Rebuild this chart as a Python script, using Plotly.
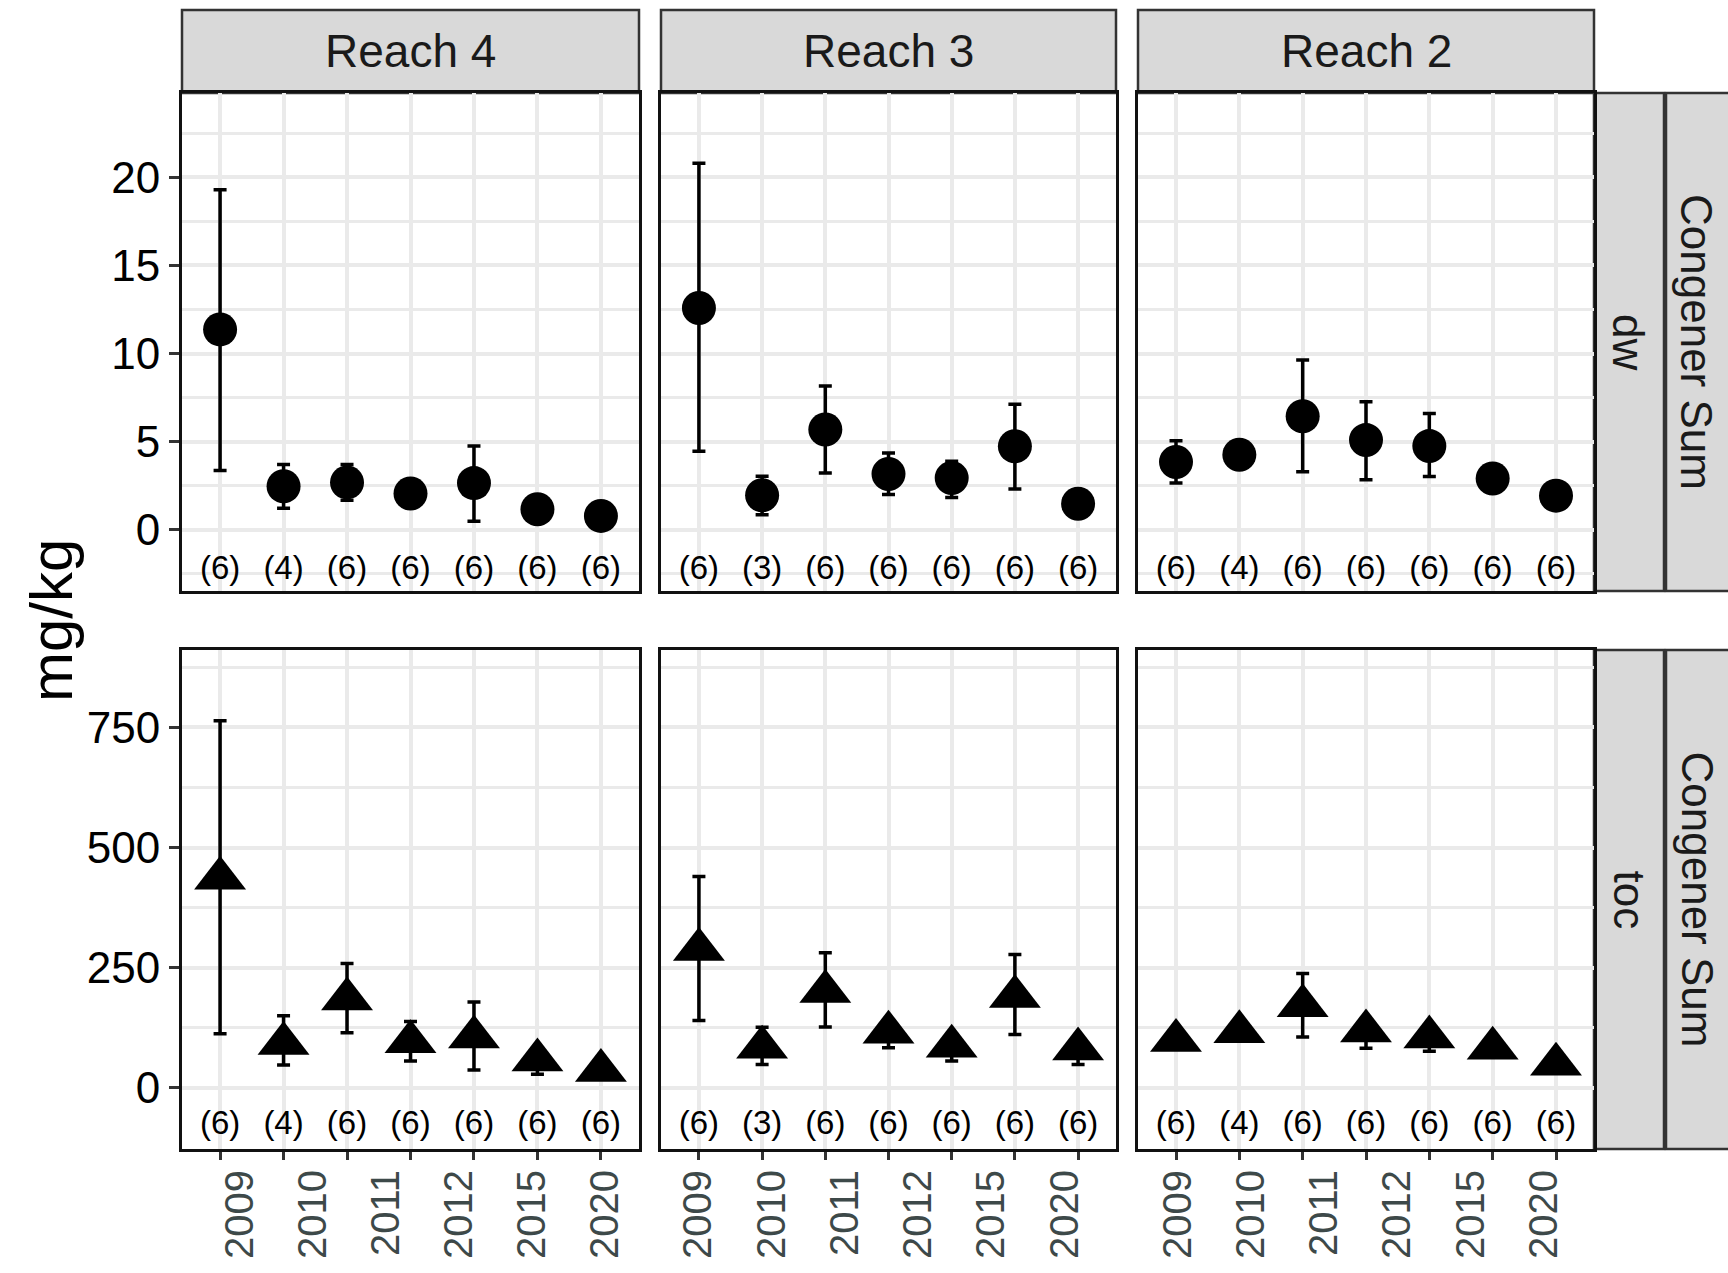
import plotly.graph_objects as go

# ---------------- data ----------------
reaches = ["Reach 4", "Reach 3", "Reach 2"]
bases = ["dw", "toc"]
group_label = "Congener Sum"
events = ["1", "2", "3", "4", "5", "6", "7"]          # 7 sampling events per panel
year_labels = ["2009", "2010", "2011", "2012", "2015", "2020"]
y_title = "mg/kg"

n_reach4 = [6, 4, 6, 6, 6, 6, 6]
n_reach3 = [6, 3, 6, 6, 6, 6, 6]
n_reach2 = [6, 4, 6, 6, 6, 6, 6]

# dry-weight (dw) values: mean, lower, upper (None = no visible bar)
dw_reach4_mean = [11.37, 2.47, 2.69, 2.06, 2.65, 1.17, 0.79]
dw_reach4_low = [3.37, 1.23, 1.68, None, 0.49, None, None]
dw_reach4_high = [19.29, 3.70, 3.70, None, 4.76, None, None]

dw_reach3_mean = [12.58, 1.96, 5.69, 3.17, 2.94, 4.74, 1.48]
dw_reach3_low = [4.46, 0.86, 3.23, 2.00, 1.84, 2.32, None]
dw_reach3_high = [20.8, 3.04, 8.16, 4.36, 3.89, 7.12, None]

dw_reach2_mean = [3.85, 4.26, 6.44, 5.09, 4.75, 2.91, 1.94]
dw_reach2_low = [2.66, None, 3.29, 2.84, 3.02, None, None]
dw_reach2_high = [5.05, None, 9.63, 7.27, 6.60, None, None]

# organic-carbon normalised (toc) values
toc_reach4_mean = [436, 92.7, 185, 96, 105.8, 58, 36.5]
toc_reach4_low = [112.6, 47.8, 115, 56, 37.4, 28.7, None]
toc_reach4_high = [764, 150, 259, 138, 179, None, None]

toc_reach3_mean = [287.8, 84.8, 200.7, 116, 86.7, 190, 80.9]
toc_reach3_low = [140.5, 49, 127, 83.7, 56, 111, 49]
toc_reach3_high = [440, 126, 281, None, None, 277.6, None]

toc_reach2_mean = [98.7, 116.8, 171, 118.6, 105.8, 82.7, 49.4]
toc_reach2_low = [None, None, 105.8, 82.7, 76.5, None, None]
toc_reach2_high = [None, None, 238, None, None, None, None]

y_ticks_dw = [0, 5, 10, 15, 20]
y_ticks_toc = [0, 250, 500, 750]

# ---------------- layout constants ----------------
W, H = 1728, 1273
FONT = "Liberation Sans, Arial, sans-serif"
col_px = [(182, 639), (661, 1116), (1138, 1594)]
row_px = [(93, 591), (650, 1149)]
strip_top_px = (10, 93)
rstrip1_px = (1594, 1664)
rstrip2_px = (1666, 1740)
y_range = [[-3.47, 24.78], [-127, 911]]
minor_step = [2.5, 125]
label_y = [-2.3, -78]
# where the six year labels sit inside each panel (fraction of panel width)
label_frac = [(0.127, 0.926), (0.0824, 0.887), (0.087, 0.890)]

GRID = "#EAEAEA"
STRIP_FILL = "#D9D9D9"
STRIP_LINE = "#333333"


def px_x(p):
    return p / W


def px_y(p):
    return 1 - p / H


series = {
    (0, 0): (dw_reach4_mean, dw_reach4_low, dw_reach4_high, n_reach4),
    (0, 1): (dw_reach3_mean, dw_reach3_low, dw_reach3_high, n_reach3),
    (0, 2): (dw_reach2_mean, dw_reach2_low, dw_reach2_high, n_reach2),
    (1, 0): (toc_reach4_mean, toc_reach4_low, toc_reach4_high, n_reach4),
    (1, 1): (toc_reach3_mean, toc_reach3_low, toc_reach3_high, n_reach3),
    (1, 2): (toc_reach2_mean, toc_reach2_low, toc_reach2_high, n_reach2),
}

fig = go.Figure()
layout = dict(
    width=W, height=H, autosize=False,
    margin=dict(l=0, r=0, t=0, b=0),
    paper_bgcolor="white", plot_bgcolor="white",
    showlegend=False,
    font=dict(family=FONT, color="black"),
)

for r in range(2):
    for c in range(3):
        k = r * 3 + c + 1
        xa, ya = f"x{k}", f"y{k}"
        mean, low, high, ns = series[(r, c)]
        up = [(h - m) if h is not None else 0 for m, h in zip(mean, high)]
        dn = [(m - l) if l is not None else 0 for m, l in zip(mean, low)]
        fig.add_trace(go.Scatter(
            x=events, y=mean, xaxis=xa, yaxis=ya, mode="markers",
            marker=dict(symbol="circle" if r == 0 else "triangle-up",
                        size=34 if r == 0 else 45, color="black",
                        line=dict(width=0)),
            error_y=dict(type="data", symmetric=False, array=up, arrayminus=dn,
                         color="black", thickness=3.5, width=6.5),
            hoverinfo="skip",
        ))
        fig.add_trace(go.Scatter(
            x=events, y=[label_y[r]] * len(events), xaxis=xa, yaxis=ya,
            mode="text", text=[f"({n})" for n in ns],
            textfont=dict(size=33, color="black", family=FONT),
            hoverinfo="skip",
        ))

        xd = [px_x(col_px[c][0]), px_x(col_px[c][1])]
        yd = [px_y(row_px[r][1]), px_y(row_px[r][0])]
        layout[f"xaxis{k}"] = dict(
            domain=xd, anchor=ya, type="category", categoryarray=events,
            range=[-0.6, len(events) - 0.4],
            showgrid=True, gridcolor=GRID, gridwidth=3.5,
            showline=True, mirror=True, linecolor="#111111", linewidth=3,
            zeroline=False, showticklabels=False,
            ticks="outside" if r == 1 else "", ticklen=8, tickwidth=3,
            tickcolor="#333333",
        )
        ticks = y_ticks_dw if r == 0 else y_ticks_toc
        layout[f"yaxis{k}"] = dict(
            domain=yd, anchor=xa, range=y_range[r],
            tickvals=ticks, ticktext=[str(t) for t in ticks],
            showgrid=True, gridcolor=GRID, gridwidth=3.5,
            minor=dict(dtick=minor_step[r], tick0=0, showgrid=True,
                       gridcolor=GRID, gridwidth=2.5),
            showline=True, mirror=True, linecolor="#111111", linewidth=3,
            zeroline=False, showticklabels=(c == 0),
            ticks="outside" if c == 0 else "", ticklen=10, tickwidth=3,
            tickcolor="#333333",
            tickfont=dict(size=44, color="black", family=FONT),
        )

# overlay axes carrying the six year labels under the bottom panels
for c in range(3):
    k = 7 + c
    base_k = 4 + c
    f0, f1 = label_frac[c]
    nlab = len(year_labels)
    span = (nlab - 1) / (f1 - f0)
    a = -f0 * span
    layout[f"xaxis{k}"] = dict(
        overlaying=f"x{base_k}", anchor=f"y{base_k}", side="bottom",
        range=[a, a + span], tickvals=list(range(nlab)), ticktext=year_labels,
        tickangle=-90, ticks="", showgrid=False, showline=False, zeroline=False,
        ticklabelstandoff=12,
        tickfont=dict(size=40, color="#3D4949", family=FONT),
    )
    fig.add_trace(go.Scatter(x=[None], y=[None], xaxis=f"x{k}", yaxis=f"y{base_k}",
                             mode="markers", hoverinfo="skip"))

shapes = []
annotations = []
for c in range(3):
    x0, x1 = px_x(col_px[c][0]), px_x(col_px[c][1])
    shapes.append(dict(type="rect", xref="paper", yref="paper",
                       x0=x0, x1=x1, y0=px_y(strip_top_px[1]), y1=px_y(strip_top_px[0]),
                       fillcolor=STRIP_FILL, line=dict(color=STRIP_LINE, width=2.5),
                       layer="below"))
    annotations.append(dict(text=reaches[c], xref="paper", yref="paper",
                            x=(x0 + x1) / 2, y=(px_y(strip_top_px[0]) + px_y(strip_top_px[1])) / 2,
                            showarrow=False, xanchor="center", yanchor="middle",
                            font=dict(size=46, color="#1A1A1A", family=FONT)))
for r in range(2):
    y0, y1 = px_y(row_px[r][1]), px_y(row_px[r][0])
    for (sx0, sx1), txt in ((rstrip1_px, bases[r]), (rstrip2_px, group_label)):
        shapes.append(dict(type="rect", xref="paper", yref="paper",
                           x0=px_x(sx0), x1=px_x(sx1), y0=y0, y1=y1,
                           fillcolor=STRIP_FILL, line=dict(color=STRIP_LINE, width=2.5),
                           layer="below"))
        cx = (sx0 + min(sx1, W)) / 2
        annotations.append(dict(text=txt, xref="paper", yref="paper",
                                x=px_x(cx), y=(y0 + y1) / 2, textangle=90,
                                showarrow=False, xanchor="center", yanchor="middle",
                                font=dict(size=44, color="#1A1A1A", family=FONT)))

annotations.append(dict(text=y_title, xref="paper", yref="paper",
                        x=px_x(52), y=px_y((row_px[0][0] + row_px[1][1]) / 2),
                        textangle=-90, showarrow=False,
                        xanchor="center", yanchor="middle",
                        font=dict(size=60, color="black", family=FONT)))

layout["shapes"] = shapes
layout["annotations"] = annotations
fig.update_layout(**layout)
fig.write_html("out.html")
